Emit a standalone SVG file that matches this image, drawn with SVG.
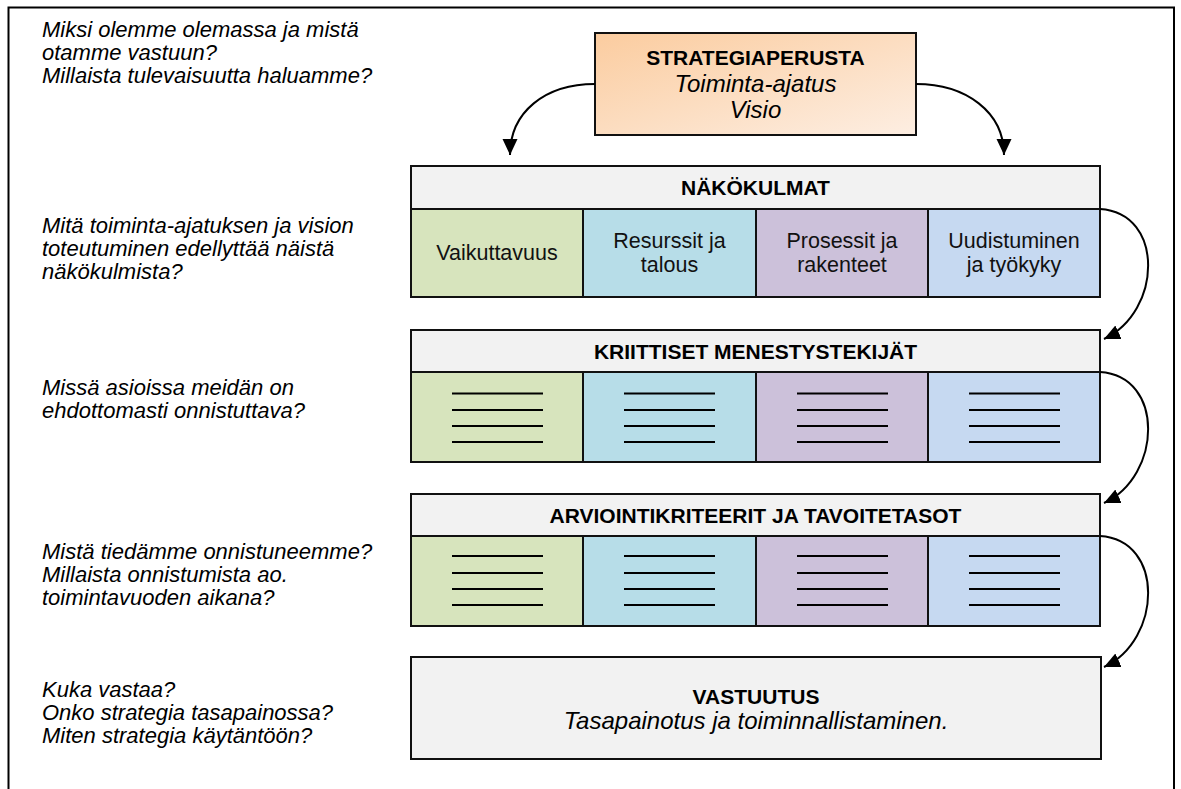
<svg xmlns="http://www.w3.org/2000/svg" width="1181" height="789" viewBox="0 0 1181 789">
  <style>
    .q { font-family: "Liberation Sans", Arial, sans-serif; font-size: 22px; font-style: italic; fill: #000; }
    .h { font-family: "Liberation Sans", Arial, sans-serif; font-size: 21px; font-weight: bold; fill: #000; text-anchor: middle; }
    .t { font-family: "Liberation Sans", Arial, sans-serif; font-size: 21.5px; fill: #111; text-anchor: middle; }
    .ti { font-family: "Liberation Sans", Arial, sans-serif; font-size: 24px; font-style: italic; fill: #000; text-anchor: middle; }
    .box { stroke: #111; stroke-width: 2; }
    .hdr { fill: #f2f2f2; }
    .c1 { fill: #d7e4bd; }
    .c2 { fill: #b7dde8; }
    .c3 { fill: #ccc1da; }
    .c4 { fill: #c6d9f1; }
    .ln { stroke: #000; stroke-width: 2; }
    .conn { fill: none; stroke: #000; stroke-width: 2; }
  </style>
  <defs>
    <linearGradient id="orange" x1="0" y1="0" x2="1" y2="1">
      <stop offset="0" stop-color="#fbcc9f"/>
      <stop offset="1" stop-color="#fdeee2"/>
    </linearGradient>
    <marker id="ah" markerUnits="userSpaceOnUse" markerWidth="17" markerHeight="16" refX="16" refY="7.5" orient="auto">
      <path d="M0,0 L16,7.5 L0,15 z" fill="#000"/>
    </marker>
  </defs>

  <!-- frame -->
  <path d="M8.5,789 L8.5,7.5 L1174,7.5 L1174,789" fill="none" stroke="#000" stroke-width="2"/>

  <!-- questions on the left -->
  <g id="questions">
    <text class="q" x="42" y="37">Miksi olemme olemassa ja mistä</text>
    <text class="q" x="42" y="60">otamme vastuun?</text>
    <text class="q" x="42" y="83">Millaista tulevaisuutta haluamme?</text>
    <text class="q" x="42" y="233">Mitä toiminta-ajatuksen ja vision</text>
    <text class="q" x="42" y="256">toteutuminen edellyttää näistä</text>
    <text class="q" x="42" y="279">näkökulmista?</text>
    <text class="q" x="42" y="395">Missä asioissa meidän on</text>
    <text class="q" x="42" y="418">ehdottomasti onnistuttava?</text>
    <text class="q" x="42" y="559">Mistä tiedämme onnistuneemme?</text>
    <text class="q" x="42" y="582">Millaista onnistumista ao.</text>
    <text class="q" x="42" y="605">toimintavuoden aikana?</text>
    <text class="q" x="42" y="697">Kuka vastaa?</text>
    <text class="q" x="42" y="720">Onko strategia tasapainossa?</text>
    <text class="q" x="42" y="743">Miten strategia käytäntöön?</text>
  </g>

  <!-- strategy base -->
  <g id="strategiaperusta">
    <rect class="box" x="595" y="33" width="321" height="102" fill="url(#orange)"/>
    <text class="h" x="755.5" y="65">STRATEGIAPERUSTA</text>
    <text class="ti" x="755.5" y="92">Toiminta-ajatus</text>
    <text class="ti" x="755.5" y="118">Visio</text>
  </g>

  <!-- perspectives -->
  <g id="nakokulmat">
    <rect class="box hdr" x="411" y="166" width="689" height="43"/>
    <text class="h" x="755.5" y="195">NÄKÖKULMAT</text>
    <rect class="box c1" x="411" y="209" width="172" height="88"/>
    <rect class="box c2" x="583" y="209" width="173" height="88"/>
    <rect class="box c3" x="756" y="209" width="172" height="88"/>
    <rect class="box c4" x="928" y="209" width="172" height="88"/>
    <text class="t" x="497" y="260">Vaikuttavuus</text>
    <text class="t" x="669.5" y="248">Resurssit ja</text>
    <text class="t" x="669.5" y="272">talous</text>
    <text class="t" x="842" y="248">Prosessit ja</text>
    <text class="t" x="842" y="272">rakenteet</text>
    <text class="t" x="1014" y="248">Uudistuminen</text>
    <text class="t" x="1014" y="272">ja työkyky</text>
  </g>

  <!-- critical success factors -->
  <g id="kriittiset">
    <rect class="box hdr" x="411" y="330" width="689" height="42"/>
    <text class="h" x="755.5" y="359">KRIITTISET MENESTYSTEKIJÄT</text>
    <rect class="box c1" x="411" y="372" width="172" height="90"/>
    <rect class="box c2" x="583" y="372" width="173" height="90"/>
    <rect class="box c3" x="756" y="372" width="172" height="90"/>
    <rect class="box c4" x="928" y="372" width="172" height="90"/>
    <g class="ln">
      <path d="M452,393.5h91M452,410h91M452,426h91M452,442h91"/>
      <path d="M624,393.5h91M624,410h91M624,426h91M624,442h91"/>
      <path d="M797,393.5h91M797,410h91M797,426h91M797,442h91"/>
      <path d="M969,393.5h91M969,410h91M969,426h91M969,442h91"/>
    </g>
  </g>

  <!-- evaluation criteria -->
  <g id="arviointi">
    <rect class="box hdr" x="411" y="494" width="689" height="42"/>
    <text class="h" x="755.5" y="523">ARVIOINTIKRITEERIT JA TAVOITETASOT</text>
    <rect class="box c1" x="411" y="536" width="172" height="90"/>
    <rect class="box c2" x="583" y="536" width="173" height="90"/>
    <rect class="box c3" x="756" y="536" width="172" height="90"/>
    <rect class="box c4" x="928" y="536" width="172" height="90"/>
    <g class="ln">
      <path d="M452,556h91M452,573h91M452,589h91M452,605h91"/>
      <path d="M624,556h91M624,573h91M624,589h91M624,605h91"/>
      <path d="M797,556h91M797,573h91M797,589h91M797,605h91"/>
      <path d="M969,556h91M969,573h91M969,589h91M969,605h91"/>
    </g>
  </g>

  <!-- responsibility -->
  <g id="vastuutus">
    <rect class="box hdr" x="411" y="657" width="690" height="102"/>
    <text class="h" x="756" y="704">VASTUUTUS</text>
    <text class="ti" x="756" y="729">Tasapainotus ja toiminnallistaminen.</text>
  </g>

  <!-- connectors -->
  <g id="connectors">
    <path class="conn" d="M595,84 C545,84 510,112 510,155" marker-end="url(#ah)"/>
    <path class="conn" d="M916,84 C966,84 1004,112 1004,155" marker-end="url(#ah)"/>
    <path class="conn" d="M1100,209 C1165,213 1162,312 1104,339" marker-end="url(#ah)"/>
    <path class="conn" d="M1100,372 C1165,376 1162,476 1104,503" marker-end="url(#ah)"/>
    <path class="conn" d="M1100,536 C1165,540 1162,640 1104,667" marker-end="url(#ah)"/>
  </g>
</svg>
